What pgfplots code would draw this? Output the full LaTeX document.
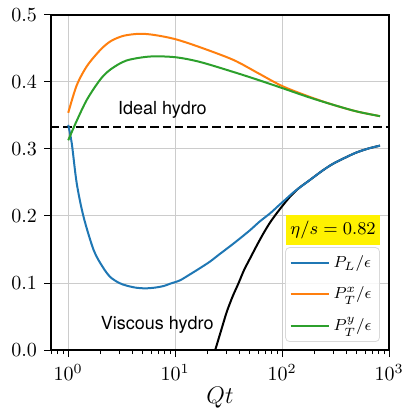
\documentclass[border=0pt]{standalone}
\usepackage{pgfplots}
\pgfplotsset{compat=1.18}
\usepackage{fontspec}
\newfontfamily\hel{TeX Gyre Heros}
\definecolor{tabblue}{HTML}{1F77B4}
\definecolor{taborange}{HTML}{FF7F0E}
\definecolor{tabgreen}{HTML}{2CA02C}
\begin{document}
\begin{tikzpicture}
\begin{axis}[
  name=ax,
  scale only axis, width=169pt, height=167.5pt,
  xmode=log, xmin=0.69, xmax=1000,
  ymin=0, ymax=0.5,
  ytick={0,0.1,0.2,0.3,0.4,0.5},
  yticklabel style={/pgf/number format/fixed,/pgf/number format/precision=1,/pgf/number format/fixed zerofill},
  scaled y ticks=false,
  grid=major, major grid style={gray!40, line width=0.5pt},
  tick align=outside, tick pos=left,
  major tick length=3.5pt, minor tick length=2pt,
  axis line style={line width=0.6pt, black},
  every tick/.style={black, line width=0.5pt},
  xlabel={\large $Qt$},
  xlabel style={yshift=3.5pt},
  clip=false,
  legend style={at={(0.973,0.024)}, anchor=south east, font=\footnotesize,
    draw=gray!30, rounded corners=2pt, row sep=4pt, inner sep=2pt, fill=white, fill opacity=0.85, text opacity=1},
  legend cell align=left,
  legend image code/.code={\draw[#1] (0pt,0pt) -- (19pt,0pt);},
]
\addplot[black, line width=0.9pt, dashed, dash pattern=on 4.2pt off 2pt, forget plot] coordinates {(0.69,0.3333) (1000,0.3333)};
\addplot[black, line width=1pt, smooth, forget plot] coordinates {
(23.7,0) (27,0.03) (30.4,0.057) (34.5,0.08) (39.1,0.0995) (44,0.119) (50.3,0.137) (58,0.156) (66.9,0.174) (77,0.19) (89,0.204) (103,0.217) (119,0.229) (142,0.241) (183,0.254) (240,0.268) (300,0.278) (400,0.288) (500,0.295) (650,0.301) (824,0.305)};
\addplot[tabblue, line width=1pt, smooth] coordinates {
(1,0.336) (1.08,0.308) (1.2,0.249) (1.39,0.199) (1.73,0.149) (2.1,0.124) (2.47,0.109) (3.0,0.100) (3.53,0.096) (4.3,0.093) (5.2,0.092) (6.4,0.093) (7.8,0.0955) (9,0.099) (11.1,0.104) (13.8,0.113) (17,0.122) (21.2,0.132) (26,0.143) (32.7,0.155) (40,0.166) (50.3,0.179) (62,0.192) (77.3,0.204) (92,0.215) (110,0.226) (125,0.234) (142,0.241) (183,0.254) (240,0.268) (300,0.278) (400,0.288) (500,0.295) (650,0.301) (824,0.305)};
\addlegendentry{$P_L/\epsilon$}
\addplot[taborange, line width=1pt, smooth] coordinates {
(1,0.354) (1.2,0.395) (1.5,0.424) (2,0.448) (2.5,0.461) (3.3,0.469) (4.7,0.472) (6.5,0.470) (10,0.464) (17,0.452) (35,0.433) (60,0.413) (100,0.394) (180,0.378) (300,0.366) (500,0.356) (824,0.349)};
\addlegendentry{$P_T^x/\epsilon$}
\addplot[tabgreen, line width=1pt, smooth] coordinates {
(1,0.313) (1.2,0.342) (1.5,0.374) (2,0.404) (2.5,0.419) (3.5,0.432) (5.8,0.438) (10,0.437) (17,0.430) (35,0.415) (60,0.403) (100,0.391) (180,0.377) (300,0.366) (500,0.356) (824,0.349)};
\addlegendentry{$P_T^y/\epsilon$}
\node[font=\hel\small] at (axis cs:7.6,0.358) {Ideal hydro};
\node[font=\hel\small] at (axis cs:6.8,0.037) {Viscous hydro};
\node[fill=yellow, inner xsep=2pt, inner ysep=3pt, font=\small] at (axis cs:300,0.179) {$\eta/s=0.82$};
\draw[line width=0.7pt, black] (rel axis cs:0,1) -- (rel axis cs:1,1) -- (rel axis cs:1,0);
\end{axis}
\pgfresetboundingbox
\path[use as bounding box] ([xshift=-25.5pt,yshift=-30pt]ax.south west) rectangle ([xshift=8pt,yshift=7.5pt]ax.north east);
\end{tikzpicture}
\end{document}
